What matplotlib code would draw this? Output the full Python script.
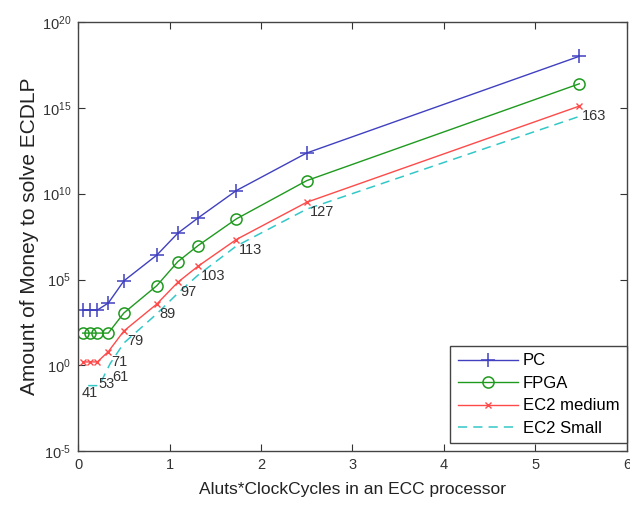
import numpy as np
import matplotlib
matplotlib.use("Agg")
import matplotlib.pyplot as plt

plt.rcParams['font.family'] = ['Liberation Sans', 'DejaVu Sans']
plt.rcParams['mathtext.fontset'] = 'custom'
plt.rcParams['mathtext.rm'] = 'Liberation Sans'
plt.rcParams['mathtext.it'] = 'Liberation Sans:italic'
plt.rcParams['mathtext.bf'] = 'Liberation Sans:bold'

# x positions (Aluts*ClockCycles) and log10 of money for each platform
x_pts = [0.05, 0.13, 0.21, 0.33, 0.50, 0.86, 1.09, 1.31, 1.73, 2.50, 5.48]
pc_log = [3.22, 3.22, 3.22, 3.63, 4.92, 6.42, 7.70, 8.58, 10.18, 12.37, 18.0]
fpga_log = [1.88, 1.88, 1.88, 1.88, 3.05, 4.64, 6.04, 6.97, 8.53, 10.76, 16.4]
ec2m_log = [0.2, 0.2, 0.2, 0.8, 2.0, 3.57, 4.84, 5.77, 7.33, 9.5, 15.1]
x_small = [0.11, 0.23, 0.35, 0.50, 0.86, 1.09, 1.31, 1.73, 2.50, 5.48]
ec2s_log = [-1.18, -1.18, 0.1, 1.3, 3.0, 4.2, 5.25, 6.95, 9.1, 14.5]
key_bits = ['41', '53', '61', '71', '79', '89', '97', '103', '113', '127', '163']
y_exps = [-5, 0, 5, 10, 15, 20]

pc = 10.0 ** np.array(pc_log)
fpga = 10.0 ** np.array(fpga_log)
ec2m = 10.0 ** np.array(ec2m_log)
ec2s = 10.0 ** np.array(ec2s_log)

fig = plt.figure(figsize=(6.30, 5.11), dpi=100)
ax = fig.add_axes([0.124, 0.117, 0.871, 0.840])

ax.semilogy(x_pts, pc, '-+', color='#4040c0', lw=1, ms=10, mew=1.1, label='PC')
ax.semilogy(x_pts, fpga, '-o', color='#1f9a1f', lw=1, ms=8, mfc='none', mew=1.1, label='FPGA')
ax.semilogy(x_pts, ec2m, '-x', color='#ff4a4a', lw=1, ms=5, mew=1, label='EC2 medium')
ax.semilogy(x_small, ec2s, '--', color='#33c8c8', lw=1.1, dashes=(6, 4), label='EC2 Small')

# key size labels next to the EC2 medium points
offsets = [(-1, -31), (8, -22), (15, -15)] + [(3, -10)] * 8
for xi, yi, lab, off in zip(x_pts, ec2m, key_bits, offsets):
    ax.annotate(lab, (xi, yi), xytext=off, textcoords='offset pixels',
                ha='left', va='center', fontsize=10.5, color='#333333')

ax.set_xlim(0, 6)
ax.set_ylim(1e-5, 1e20)
ax.set_xticks([0, 1, 2, 3, 4, 5, 6])
ax.set_yticks([10.0 ** e for e in y_exps])
ax.set_yticklabels([r'$10^{%s}$' % str(e).replace('-', '\u2010') for e in y_exps])
ax.minorticks_off()
ax.tick_params(direction='in', top=True, right=True, length=5, labelsize=10.5,
               colors='#333333', pad=5)
for s in ax.spines.values():
    s.set_color('#444444')
    s.set_linewidth(1)

ax.set_xlabel('Aluts*ClockCycles in an ECC processor', fontsize=12.5, color='#222222', labelpad=7)
ax.set_ylabel('Amount of Money to solve ECDLP', fontsize=15, color='#222222', labelpad=2)

leg = ax.legend(loc='lower right', bbox_to_anchor=(1.0, 0.018), borderaxespad=0,
                fontsize=12, fancybox=False, framealpha=1, edgecolor='#444444',
                handlelength=3.6, borderpad=0.45, labelspacing=0.45, handletextpad=0.3)
leg.get_frame().set_linewidth(1)

fig.savefig('out.png', dpi=100)
